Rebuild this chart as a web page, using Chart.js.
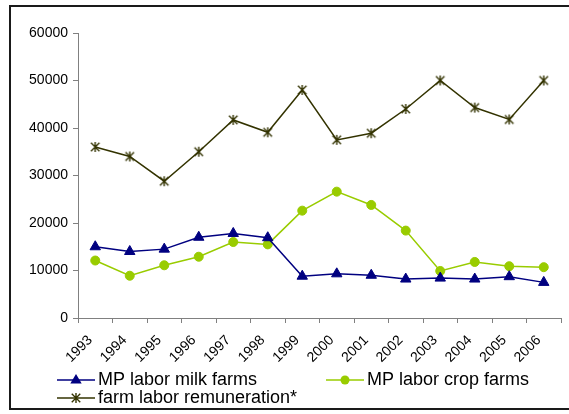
<!DOCTYPE html>
<html>
<head>
<meta charset="utf-8">
<script src="https://cdn.jsdelivr.net/npm/chart.js@4/dist/chart.umd.min.js"></script>
<style>
  html, body { margin: 0; padding: 0; background: #ffffff; }
  #wrap { width: 569px; height: 414px; position: relative; }
</style>
</head>
<body>
<div id="wrap"><canvas id="chart" width="569" height="414"></canvas></div>
<script>
// Years on the category axis
const years = ['1993', '1994', '1995', '1996', '1997', '1998', '1999',
               '2000', '2001', '2002', '2003', '2004', '2005', '2006'];

// Marginal product of labour, milk farms
const milkFarms = [15000, 14000, 14500, 17000, 17800, 16900, 8800,
                   9300, 9000, 8200, 8400, 8200, 8700, 7500];

// Marginal product of labour, crop farms
const cropFarms = [12100, 8900, 11100, 12900, 16000, 15500, 22600,
                   26600, 23800, 18400, 9900, 11800, 10900, 10700];

// Farm labour remuneration
const remuneration = [36000, 34000, 28800, 35000, 41700, 39100, 48000,
                      37500, 38900, 44000, 50000, 44300, 41800, 50000];

// Value axis ticks
const yTicks = [0, 10000, 20000, 30000, 40000, 50000, 60000];

const FONT = "'Liberation Sans', Arial, sans-serif";
const NAVY = '#000080';
const LIME = '#99cc00';
const OLIVE = '#333300';

// Asterisk marker: an X with a vertical bar
function makeStar(size, color) {
  const c = document.createElement('canvas');
  c.width = size; c.height = size;
  const g = c.getContext('2d');
  g.strokeStyle = color;
  g.lineWidth = 1.4;
  const m = size / 2, r = size / 2 - 1;
  g.beginPath();
  g.moveTo(m, m - r); g.lineTo(m, m + r);
  g.moveTo(m - r * 0.85, m - r * 0.85); g.lineTo(m + r * 0.85, m + r * 0.85);
  g.moveTo(m + r * 0.85, m - r * 0.85); g.lineTo(m - r * 0.85, m + r * 0.85);
  g.stroke();
  return c;
}
const starMarker = makeStar(12, OLIVE);

// Outer frame around the whole figure
const framePlugin = {
  id: 'frame',
  beforeDraw(chart) {
    const ctx = chart.ctx;
    ctx.save();
    ctx.fillStyle = '#ffffff';
    ctx.fillRect(0, 0, chart.width, chart.height);
    ctx.strokeStyle = '#1a1a1a';
    ctx.lineWidth = 2;
    ctx.strokeRect(10, 6, chart.width + 10, 403);
    ctx.restore();
  }
};

// Two-column legend under the axis labels
const legendPlugin = {
  id: 'sideLegend',
  afterDraw(chart) {
    const ctx = chart.ctx;
    const items = [
      { ds: 0, x: 57, y: 380 },
      { ds: 1, x: 326, y: 380 },
      { ds: 2, x: 57, y: 398 }
    ];
    ctx.save();
    items.forEach(it => {
      const ds = chart.data.datasets[it.ds];
      const lineLen = 38;
      ctx.strokeStyle = ds.borderColor;
      ctx.lineWidth = ds.borderWidth;
      ctx.beginPath();
      ctx.moveTo(it.x, it.y);
      ctx.lineTo(it.x + lineLen, it.y);
      ctx.stroke();
      const cx = it.x + lineLen / 2;
      const style = ds.pointStyle;
      if (style === 'triangle') {
        const r = ds.pointRadius;
        ctx.fillStyle = ds.pointBackgroundColor;
        ctx.beginPath();
        ctx.moveTo(cx, it.y - r);
        ctx.lineTo(cx + r * 0.95, it.y + r * 0.6);
        ctx.lineTo(cx - r * 0.95, it.y + r * 0.6);
        ctx.closePath();
        ctx.fill();
      } else if (style === 'circle') {
        ctx.fillStyle = ds.pointBackgroundColor;
        ctx.beginPath();
        ctx.arc(cx, it.y, ds.pointRadius, 0, Math.PI * 2);
        ctx.fill();
      } else {
        ctx.drawImage(style, cx - style.width / 2, it.y - style.height / 2);
      }
      ctx.fillStyle = '#000000';
      ctx.font = '18px ' + FONT;
      ctx.textBaseline = 'middle';
      ctx.textAlign = 'left';
      ctx.fillText(ds.label, it.x + lineLen + 3, it.y);
    });
    ctx.restore();
  }
};

new Chart(document.getElementById('chart'), {
  type: 'line',
  data: {
    labels: years,
    datasets: [
      {
        label: 'MP labor milk farms',
        data: milkFarms,
        borderColor: NAVY,
        backgroundColor: NAVY,
        pointBackgroundColor: NAVY,
        pointBorderColor: NAVY,
        borderWidth: 1.5,
        pointStyle: 'triangle',
        pointRadius: 6,
        pointBorderWidth: 1,
        tension: 0
      },
      {
        label: 'MP labor crop farms',
        data: cropFarms,
        borderColor: LIME,
        backgroundColor: LIME,
        pointBackgroundColor: LIME,
        pointBorderColor: LIME,
        borderWidth: 1.5,
        pointStyle: 'circle',
        pointRadius: 4.5,
        pointBorderWidth: 1,
        tension: 0
      },
      {
        label: 'farm labor remuneration*',
        data: remuneration,
        borderColor: OLIVE,
        backgroundColor: OLIVE,
        borderWidth: 1.5,
        pointStyle: starMarker,
        pointRadius: 6,
        tension: 0
      }
    ]
  },
  options: {
    responsive: false,
    animation: false,
    devicePixelRatio: 1,
    layout: { padding: { top: 33, right: 8, left: 0, bottom: 0 } },
    plugins: {
      legend: { display: false },
      tooltip: { enabled: false }
    },
    scales: {
      x: {
        type: 'category',
        offset: true,
        grid: { drawOnChartArea: false, offset: true, tickLength: 5, color: '#808080', lineWidth: 1 },
        border: { color: '#808080', width: 1 },
        ticks: {
          autoSkip: false,
          minRotation: 45,
          maxRotation: 45,
          padding: 9,
          labelOffset: -5,
          color: '#000000',
          font: { family: FONT, size: 14 }
        },
        afterFit(scale) { scale.height = 96; }
      },
      y: {
        min: 0,
        max: 60000,
        afterBuildTicks(scale) { scale.ticks = yTicks.map(v => ({ value: v })); },
        grid: { drawOnChartArea: false, tickLength: 5, color: '#808080', lineWidth: 1 },
        border: { color: '#808080', width: 1 },
        ticks: {
          padding: 5,
          color: '#000000',
          font: { family: FONT, size: 14 },
          callback: v => String(v)
        },
        afterFit(scale) { scale.width = 78; }
      }
    }
  },
  plugins: [framePlugin, legendPlugin]
});
</script>
</body>
</html>
